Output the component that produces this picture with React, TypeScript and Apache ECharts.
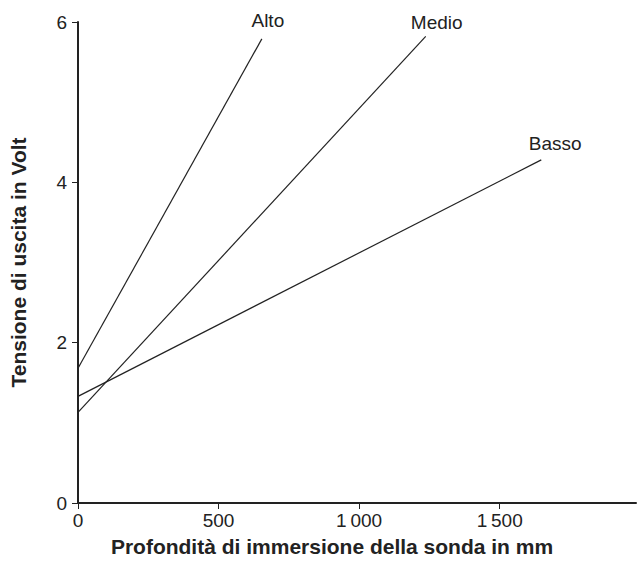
import React, { useEffect, useRef } from "react";
import * as echarts from "echarts";

const seriesNames = ["Alto", "Medio", "Basso"];
const altoData = [[0, 1.68], [654, 5.79]];
const medioData = [[0, 1.13], [1237, 5.82]];
const bassoData = [[0, 1.33], [1648, 4.28]];
const xTicks = [0, 500, 1000, 1500];
const yTicks = [0, 2, 4, 6];
const xTitle = "Profondità di immersione della sonda in mm";
const yTitle = "Tensione di uscita in Volt";

const FONT = "Liberation Sans, Arial, Helvetica, sans-serif";

export default function App() {
  const ref = useRef<HTMLDivElement>(null);
  useEffect(() => {
    document.body.style.margin = "0";
    if (!ref.current) return;
    const chart = echarts.init(ref.current, null, { renderer: "svg" });
    const labelOffsets = [[6, -3], [11, 1], [14, -1]];
    const datas = [altoData, medioData, bassoData];
    chart.setOption({
      animation: false,
      textStyle: { fontFamily: FONT },
      grid: { left: 77, top: 22, right: 1, bottom: 58, containLabel: false },
      xAxis: {
        type: "value",
        min: 0,
        max: 1985,
        axisLine: { show: true, lineStyle: { color: "#222", width: 2 } },
        axisTick: { show: true, customValues: xTicks, length: 6, lineStyle: { color: "#222", width: 1 } },
        axisLabel: {
          customValues: xTicks,
          color: "#222",
          fontSize: 19,
          fontFamily: FONT,
          margin: 8,
          formatter: (v: number) => (v >= 1000 ? String(v).replace(/(\d)(\d{3})$/, "$1\u2009$2") : String(v)),
        },
        splitLine: { show: false },
        name: xTitle,
        nameLocation: "middle",
        nameGap: 33,
        nameTextStyle: { color: "#222", fontSize: 21, fontWeight: "bold", fontFamily: FONT, padding: [0, 50, 0, 0] },
      },
      yAxis: {
        type: "value",
        min: 0,
        max: 6,
        interval: 2,
        axisLine: { show: true, lineStyle: { color: "#222", width: 2 } },
        axisTick: { show: true, length: 6, lineStyle: { color: "#222", width: 1 } },
        axisLabel: { color: "#222", fontSize: 19, fontFamily: FONT, margin: 11,
          formatter: (v: number) => (yTicks.includes(v) ? String(v) : "") },
        splitLine: { show: false },
        name: yTitle,
        nameLocation: "middle",
        nameGap: 49,
        nameTextStyle: { color: "#222", fontSize: 21, fontWeight: "bold", fontFamily: FONT },
      },
      series: seriesNames.map((name, i) => ({
        name,
        type: "line",
        data: datas[i].map((d, j) =>
          j === datas[i].length - 1
            ? {
                value: d,
                label: {
                  show: true,
                  position: "top",
                  formatter: name,
                  offset: labelOffsets[i],
                  color: "#222",
                  fontSize: 19,
                  fontFamily: FONT,
                },
              }
            : { value: d }
        ),
        showSymbol: true,
        symbol: "circle",
        symbolSize: 1,
        itemStyle: { color: "rgba(0,0,0,0)" },
        lineStyle: { color: "#222", width: 1.2 },
        silent: true,
      })),
    });
    return () => chart.dispose();
  }, []);
  return <div ref={ref} style={{ width: 637, height: 562 }} />;
}
